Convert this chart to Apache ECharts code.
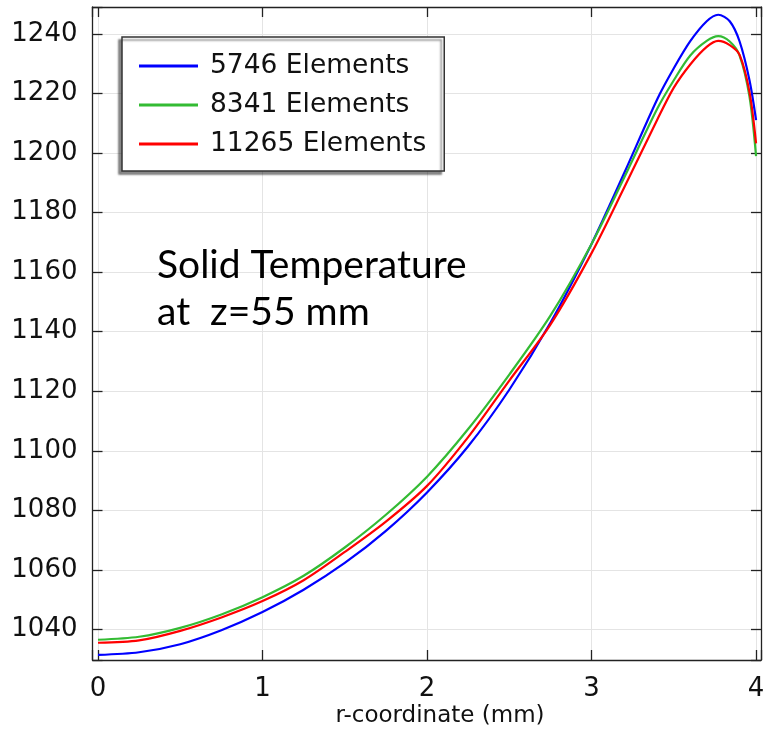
<!DOCTYPE html>
<html>
<head>
<meta charset="utf-8">
<title>Solid Temperature at z=55 mm</title>
<script src="https://cdn.jsdelivr.net/npm/echarts@6/dist/echarts.min.js"></script>
<style>
  html, body { margin: 0; padding: 0; background: #ffffff; overflow: hidden; width: 763px; height: 731px; }
  #chart { width: 763px; height: 731px; }
</style>
</head>
<body>
<div id="chart"></div>
<script>
// Radial positions (mm) where the temperature profiles are sampled
const rCoord = [0, 0.25, 0.5, 0.75, 1, 1.25, 1.5, 1.75, 2, 2.25, 2.5, 2.75, 3, 3.2, 3.4, 3.5, 3.6, 3.7, 3.77, 3.84, 3.9, 3.96, 4];

// Solid temperature for each mesh size
const temp5746 = [1031.4, 1032.3, 1035.0, 1039.7, 1045.8, 1053.3, 1062.3, 1073.1, 1086.0, 1101.5, 1120.5, 1143.0, 1169.5, 1193.5, 1218.2, 1228.5, 1237.6, 1244.3, 1246.5, 1244.3, 1237.5, 1224.5, 1211.1];
const temp8341 = [1036.5, 1037.5, 1040.5, 1045.0, 1050.8, 1058.0, 1067.5, 1078.5, 1091.3, 1107.3, 1125.6, 1145.4, 1169.5, 1192.0, 1215.0, 1224.5, 1232.8, 1237.7, 1239.3, 1237.5, 1232.8, 1219.0, 1199.0];
const temp11265 = [1035.5, 1036.3, 1039.5, 1044.0, 1049.5, 1056.5, 1066.0, 1076.2, 1088.2, 1104.6, 1123.6, 1142.4, 1166.4, 1188.6, 1211.3, 1222.0, 1229.8, 1235.7, 1237.7, 1236.3, 1233.0, 1220.5, 1203.3];

const seriesNames = ['5746 Elements', '8341 Elements', '11265 Elements'];
const seriesColors = ['#0000ff', '#33bb33', '#ff0000'];

// Axis ranges and tick spacing
const xRange = [-0.0334, 4.03];
const yRange = [1029.7, 1249.1];
const xStep = 1;
const yStep = 20;

const axisColor = '#222222';
const gridColor = '#e4e4e4';
const tickFont = 'DejaVu Sans';

function pairs(xs, ys) {
  return xs.map((x, i) => [x, ys[i]]);
}

function isStep(v, step) {
  return Math.abs(v / step - Math.round(v / step)) < 1e-6;
}

const chart = echarts.init(document.getElementById('chart'), null, { renderer: 'canvas', width: 763, height: 731 });

const baseX = {
  type: 'value',
  min: xRange[0],
  max: xRange[1],
  minInterval: xStep,
  maxInterval: xStep,
  axisLine: { show: true, onZero: false, lineStyle: { color: axisColor, width: 1.3 } },
  axisTick: { show: true, inside: true, length: 10, lineStyle: { color: axisColor, width: 1.3 } }
};
const baseY = {
  type: 'value',
  min: yRange[0],
  max: yRange[1],
  minInterval: yStep,
  maxInterval: yStep,
  axisLine: { show: true, onZero: false, lineStyle: { color: axisColor, width: 1.3 } },
  axisTick: { show: true, inside: true, length: 10, lineStyle: { color: axisColor, width: 1.3 } }
};

const series = [temp5746, temp8341, temp11265].map((vals, i) => ({
  name: seriesNames[i],
  type: 'line',
  xAxisIndex: 0,
  yAxisIndex: 0,
  data: pairs(rCoord, vals),
  smooth: 0.3,
  symbol: 'none',
  lineStyle: { color: seriesColors[i], width: 2.2 },
  itemStyle: { color: seriesColors[i] },
  emphasis: { disabled: true },
  z: 3 + i
}));

chart.setOption({
  animation: false,
  backgroundColor: '#ffffff',
  grid: { left: 92.5, top: 7, right: 2, bottom: 71, containLabel: false, outerBoundsMode: 'none' },
  xAxis: [
    Object.assign({}, baseX, {
      position: 'bottom',
      axisLabel: {
        show: true, margin: 16, fontFamily: tickFont, fontSize: 26, color: '#111111',
        formatter: v => (isStep(v, xStep) ? String(Math.round(v)) : '')
      },
      splitLine: { show: true, lineStyle: { color: gridColor, width: 1 } }
    }),
    Object.assign({}, baseX, {
      position: 'top',
      axisLabel: { show: false },
      splitLine: { show: false }
    })
  ],
  yAxis: [
    Object.assign({}, baseY, {
      position: 'left',
      axisLabel: {
        show: true, margin: 15, fontFamily: tickFont, fontSize: 26, color: '#111111',
        formatter: v => (isStep(v, yStep) ? String(Math.round(v)) : '')
      },
      splitLine: { show: true, lineStyle: { color: gridColor, width: 1 } }
    }),
    Object.assign({}, baseY, {
      position: 'right',
      axisLabel: { show: false },
      splitLine: { show: false }
    })
  ],
  legend: {
    orient: 'vertical',
    left: 122,
    top: 37,
    data: seriesNames,
    icon: 'rect',
    itemWidth: 59,
    itemHeight: 3,
    itemGap: 9,
    padding: [14, 18, 12, 17],
    backgroundColor: '#ffffff',
    borderColor: '#333333',
    borderWidth: 1.5,
    borderRadius: 0,
    shadowColor: 'rgba(0,0,0,0.45)',
    shadowBlur: 2,
    shadowOffsetX: -3,
    shadowOffsetY: 3,
    selectedMode: false,
    textStyle: {
      fontFamily: tickFont, fontSize: 26.5, color: '#111111',
      lineHeight: 30, padding: [0, 0, 0, 7]
    }
  },
  graphic: [
    {
      type: 'text',
      left: 157,
      top: 242,
      z: 10,
      style: {
        text: 'Solid Temperature\nat  z=55 mm',
        font: '39px Lato',
        lineHeight: 47,
        fill: '#000000'
      }
    },
    {
      type: 'text',
      x: 440,
      y: 716,
      z: 10,
      style: {
        text: 'r-coordinate (mm)',
        font: '23px "DejaVu Sans"',
        fill: '#111111',
        align: 'center',
        verticalAlign: 'middle'
      }
    }
  ],
  series: series
});
</script>
</body>
</html>
